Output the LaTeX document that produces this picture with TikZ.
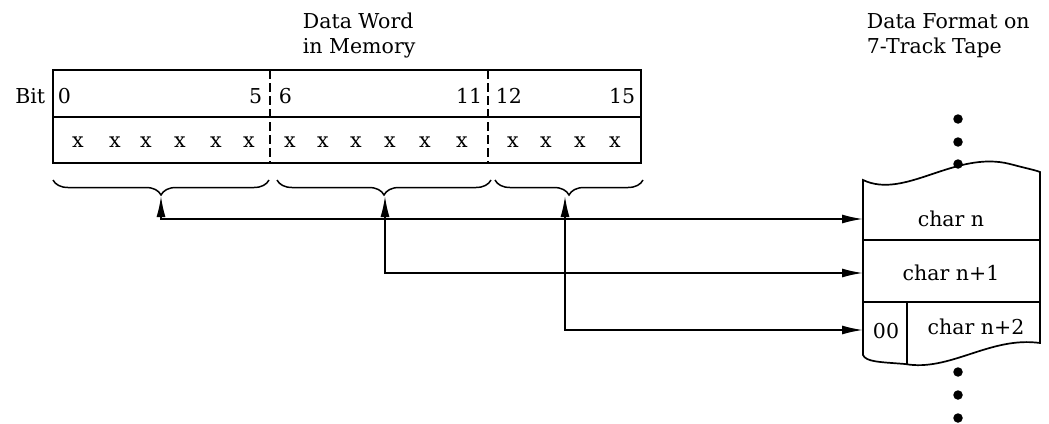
\documentclass[tikz,border=0pt]{standalone}
\usepackage{fontspec}
\setmainfont{DejaVu Serif}
\usetikzlibrary{arrows.meta,decorations.pathreplacing}
\begin{document}
\begin{tikzpicture}[x=1pt,y=-1pt,
  line width=1.7pt,
  lbl/.style={font=\fontsize{20.5}{25}\selectfont, inner sep=0pt},
  grp/.style={decorate, decoration={brace, mirror, amplitude=15pt}, line width=1.5pt},
  link/.style={arrows={Latex[length=21pt,width=9pt]-Latex[length=21pt,width=9pt]}, line width=1.7pt},
  dot/.style={circle, fill=black, inner sep=0pt, minimum size=9.5pt}
]
\useasboundingbox (0,0) rectangle (1049,423);

% --- titles
\node[lbl, anchor=base west, align=left] (wtitle) at (302,53) {Data Word\\in Memory};
\node[lbl, anchor=base west, align=left] (ttitle) at (866,53) {Data Format on\\7-Track Tape};

% --- data word in memory
\draw (53,70) rectangle (641,163);
\draw (53,117) -- (641,117);
\draw[dashed, dash pattern=on 9pt off 4pt] (270,70) -- (270,163);
\draw[dashed, dash pattern=on 9pt off 4pt] (488,70) -- (488,163);

\node[lbl, anchor=base east] (bit) at (46,103) {Bit};
\node[lbl, anchor=base west] (b0) at (57,103) {0};
\node[lbl, anchor=base east] (b5) at (263,103) {5};
\node[lbl, anchor=base west] (b6) at (278,103) {6};
\node[lbl, anchor=base east] (b11) at (483,103) {11};
\node[lbl, anchor=base west] (b12) at (495,103) {12};
\node[lbl, anchor=base east] (b15) at (636,103) {15};

\foreach \x [count=\i] in {78,115,146,180,216,249,290,323,356,390,425,462,513,546,580,615}
  \node[lbl, anchor=base] (x\i) at (\x,147) {x};

% --- braces grouping the bits
\draw[grp] (53,180) -- (269,180);
\draw[grp] (277,180) -- (491,180);
\draw[grp] (495,180) -- (643,180);
\coordinate (t1) at (161,196);
\coordinate (t2) at (385,196);
\coordinate (t3) at (565,196);

% --- tape section
\draw (863,180) .. controls (905,200) and (955,150) .. (1010,164)
      .. controls (1025,168) and (1035,170) .. (1040,172)
      -- (1040,343)
      .. controls (990,336) and (950,372) .. (905,364)
      .. controls (880,362) and (866,362) .. (863,355) -- cycle;
\draw (863,240) -- (1040,240);
\draw (863,302) -- (1040,302);
\draw (907,302) -- (907,364);

\coordinate (r1) at (863,219);
\coordinate (r2) at (863,273);
\coordinate (r3) at (863,330);
\node[lbl, anchor=base] (c1) at (951,226) {char n};
\node[lbl, anchor=base] (c2) at (951,280) {char n+1};
\node[lbl, anchor=base] (c3) at (976,334) {char n+2};
\node[lbl, anchor=base] (c0) at (886,338) {00};

% --- continuation dots
\foreach \y [count=\i] in {119,142,164} \node[dot] (ua\i) at (958,\y) {};
\foreach \y [count=\i] in {372,395,418} \node[dot] (da\i) at (958,\y) {};

% --- connectors from groups to tape characters
\draw[link] (t1) -- (t1 |- r1) -- (r1);
\draw[link] (t2) -- (t2 |- r2) -- (r2);
\draw[link] (t3) -- (t3 |- r3) -- (r3);
\end{tikzpicture}
\end{document}
